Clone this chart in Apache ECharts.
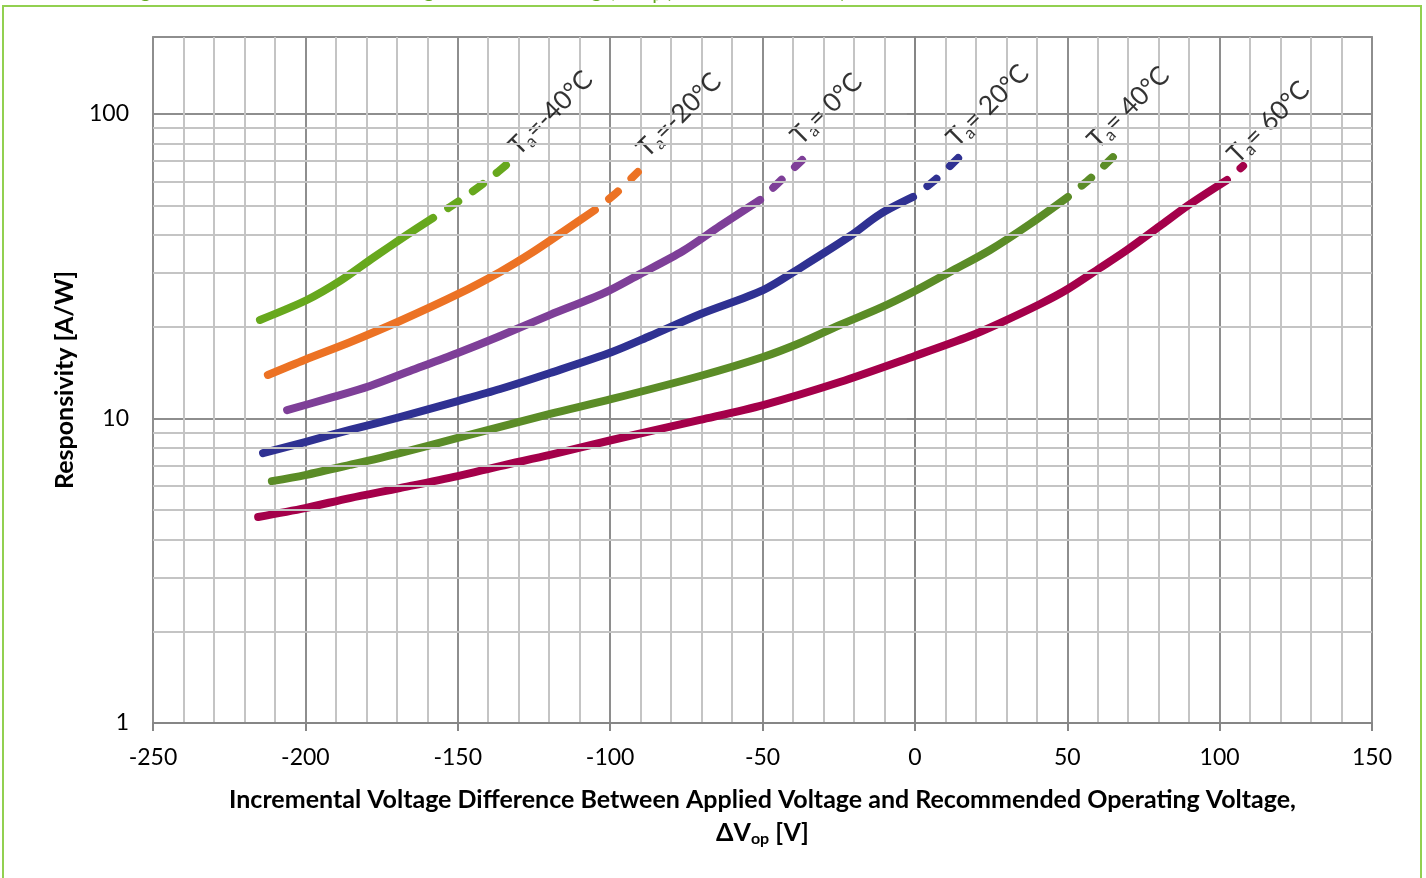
<!DOCTYPE html>
<html><head><meta charset="utf-8">
<script src="https://cdn.jsdelivr.net/npm/echarts@6/dist/echarts.min.js"></script>
<style>html,body{margin:0;padding:0;background:#fff}#c{width:1426px;height:878px}</style>
</head><body><div id="c"></div>
<script>
// ---------- data ----------
const xTickValues = [-250, -200, -150, -100, -50, 0, 50, 100, 150];
const yTickLabels = ['1', '10', '100'];
const yMinorGrid = [2,3,4,5,6,7,8,9,20,30,40,50,60,70,80,90];

// Ta = -40 °C (measured / extrapolated)
const tm40X = [-214.9, -199.5, -188.6, -177.8, -167.3, -158.1];
const tm40Y = [21.07, 24.5, 28.3, 33.7, 39.7, 45.6];
const tm40EX = [-158.1, -148.6, -140.1, -132.2];
const tm40EY = [45.6, 52.6, 60.7, 70.6];

// Ta = -20 °C
const tm20X = [-212.3, -200.1, -185.4, -169.0, -150.0, -136.1, -126.3, -115.5, -105.0];
const tm20Y = [13.9, 15.6, 17.8, 20.9, 25.6, 30.3, 34.7, 41.0, 48.4];
const tm20EX = [-105.0, -98.4, -90.9];
const tm20EY = [48.4, 54.6, 64.5];

// Ta = 0 °C
const t0X = [-206.0, -191.9, -178.8, -165.7, -150.0, -136.1, -119.7, -102.1, -90.2, -76.1, -63.9, -50.8];
const t0Y = [10.66, 11.68, 12.79, 14.32, 16.41, 18.66, 21.9, 25.8, 29.8, 35.5, 42.9, 52.2];
const t0EX = [-50.8, -44.9, -37.0];
const t0EY = [52.2, 59.3, 70.6];

// Ta = 20 °C
const t20X = [-213.9, -200.1, -185.4, -169.0, -150.0, -136.1, -119.7, -99.4, -86.9, -70.5, -49.8, -37.7, -21.3, -11.4, -0.6];
const t20Y = [7.70, 8.37, 9.17, 10.11, 11.41, 12.5, 14.11, 16.53, 18.66, 22.0, 26.4, 31.2, 39.7, 46.9, 53.4];
const t20EX = [-0.6, 6.6, 14.2];
const t20EY = [53.4, 60.7, 71.7];

// Ta = 40 °C
const t40X = [-211.0, -200.1, -185.4, -169.0, -150.0, -136.1, -119.7, -99.4, -70.5, -49.8, -37.7, -24.6, -11.4, 0.0, 11.5, 24.7, 37.8, 50.2];
const t40Y = [6.23, 6.52, 7.04, 7.70, 8.63, 9.38, 10.35, 11.59, 13.79, 15.92, 17.7, 20.28, 23.07, 26.22, 30.28, 35.77, 43.53, 53.4];
const t40EX = [50.2, 58.1, 65.0];
const t40EY = [53.4, 62.1, 72.2];

// Ta = 60 °C
const t60X = [-215.5, -200.1, -185.4, -169.0, -150.0, -136.1, -119.7, -99.4, -70.5, -49.8, -24.6, 0.0, 18.1, 27.9, 41.1, 50.2, 60.7, 69.6, 80.4, 90.3, 102.4];
const t60Y = [4.75, 5.08, 5.48, 5.91, 6.47, 6.98, 7.59, 8.50, 9.89, 11.07, 13.18, 16.05, 18.66, 20.58, 23.77, 26.62, 31.2, 35.77, 42.88, 50.64, 60.7];
const t60EX = [102.4, 107.7];
const t60EY = [60.7, 67.5];

const curveLabels = ['=-40°C', '=-20°C', '= 0°C', '= 20°C', '= 40°C', '= 60°C'];

// ---------- styles / layout ----------
const curveColors = ['#67a81d', '#ec7224', '#7e3f98', '#2f3192', '#5b8c27', '#a4004a'];
const labelOffsets = [[1, -12], [10, -17], [3, -25], [0, -22], [-12, -30], [-9, -19]];
const FONT = 'Lato, "Open Sans", sans-serif';

// ---------- build ----------
const zip = (xs, ys) => xs.map((x, i) => [x, ys[i]]);
const curves = [
  [tm40X, tm40Y, tm40EX, tm40EY],
  [tm20X, tm20Y, tm20EX, tm20EY],
  [t0X, t0Y, t0EX, t0EY],
  [t20X, t20Y, t20EX, t20EY],
  [t40X, t40Y, t40EX, t40EY],
  [t60X, t60Y, t60EX, t60EY]
];

const series = [];
// minor horizontal grid lines of the log axis (2..9 per decade)
series.push({
  type: 'line', data: [], z: 1, silent: true, animation: false,
  markLine: {
    silent: true, symbol: 'none', animation: false,
    label: { show: false },
    lineStyle: { color: '#c4c4c4', width: 2, type: 'solid' },
    emphasis: { disabled: true },
    data: yMinorGrid.map(v => ({ yAxis: v }))
  }
});

curves.forEach((c, i) => {
  const col = curveColors[i];
  series.push({
    type: 'line', data: zip(c[0], c[1]), smooth: 0.3, symbol: 'none', z: 3,
    silent: true, animation: false,
    lineStyle: { color: col, width: 8, cap: 'round', join: 'round' }
  });
  series.push({
    type: 'line', data: zip(c[2], c[3]), smooth: 0.3, symbol: 'none', z: 3,
    silent: true, animation: false,
    lineStyle: { color: col, width: 8, cap: 'round', join: 'round', type: [12, 18], dashOffset: 12 }
  });
  const last = c[2].length - 1;
  series.push({
    type: 'scatter', data: [[c[2][last], c[3][last]]], symbolSize: 1, z: 4,
    itemStyle: { color: 'rgba(0,0,0,0)' }, silent: true, animation: false,
    label: {
      show: true, position: 'right', distance: 8, rotate: 45, offset: labelOffsets[i],
      formatter: '{t|T}{s|a}{t|' + curveLabels[i] + '}',
      rich: {
        t: { fontFamily: FONT, fontSize: 26, color: '#000' },
        s: { fontFamily: FONT, fontSize: 17, color: '#000', padding: [13, 0, 0, 0] }
      }
    }
  });
});

const chart = echarts.init(document.getElementById('c'));
chart.setOption({
  backgroundColor: '#fff',
  animation: false,
  grid: { left: 153, right: 54, top: 37, bottom: 155, show: true, borderColor: '#9a9a9a', borderWidth: 2, backgroundColor: 'transparent' },
  graphic: [
    { type: 'rect', shape: { x: 3, y: 6, width: 1418, height: 900 }, style: { fill: 'none', stroke: '#92d050', lineWidth: 2 }, z: 0, silent: true },
    { type: 'text', x: 125, y: -8, style: { text: 'Figure 3. Detector Current vs. Voltage Above Bias Voltage, ΔV\u2092\u209a (Tₐ = −40 °C to 60 °C)', fill: '#62a820', font: 'bold 19px Lato', verticalAlign: 'middle' }, silent: true }
  ],
  xAxis: {
    type: 'value', min: -250, max: 150, interval: 50,
    axisLine: { show: true, onZero: false, lineStyle: { color: '#868686', width: 2 } },
    axisTick: { show: true, length: 8, lineStyle: { color: '#868686', width: 2 } },
    axisLabel: { color: '#000', fontFamily: FONT, fontSize: 23, margin: 23 },
    splitLine: { show: true, lineStyle: { color: '#8e8e8e', width: 2 } },
    minorTick: { show: false, splitNumber: 5 },
    minorSplitLine: { show: true, lineStyle: { color: '#c4c4c4', width: 2 } },
    name: '{b|Incremental Voltage Difference Between Applied Voltage and Recommended Operating Voltage,}\n{b|ΔV}{sb|op}{b| [V]}',
    nameLocation: 'middle', nameGap: 60,
    nameTextStyle: {
      rich: {
        b: { fontFamily: FONT, fontWeight: 'bold', fontSize: 25, lineHeight: 33, color: '#000' },
        sb: { fontFamily: FONT, fontWeight: 'bold', fontSize: 16, lineHeight: 33, color: '#000', padding: [13, 0, 0, 0] }
      }
    }
  },
  yAxis: {
    type: 'log', logBase: 10, min: 1, max: 179,
    axisLine: { show: true, lineStyle: { color: '#868686', width: 2 } },
    axisTick: { show: true, length: 8, lineStyle: { color: '#868686', width: 2 } },
    axisLabel: {
      color: '#000', fontFamily: FONT, fontSize: 23, margin: 24, showMaxLabel: false,
      formatter: v => { const s = String(Math.round(v)); return yTickLabels.includes(s) && Math.abs(v - Math.round(v)) < 1e-6 ? s : ''; }
    },
    splitLine: { show: true, lineStyle: { color: '#8e8e8e', width: 2 } },
    name: 'Responsivity [A/W]', nameLocation: 'middle', nameGap: 76, nameRotate: 90,
    nameTextStyle: { fontFamily: FONT, fontWeight: 'bold', fontSize: 25, color: '#000' }
  },
  series: series
});
</script>
</body></html>
